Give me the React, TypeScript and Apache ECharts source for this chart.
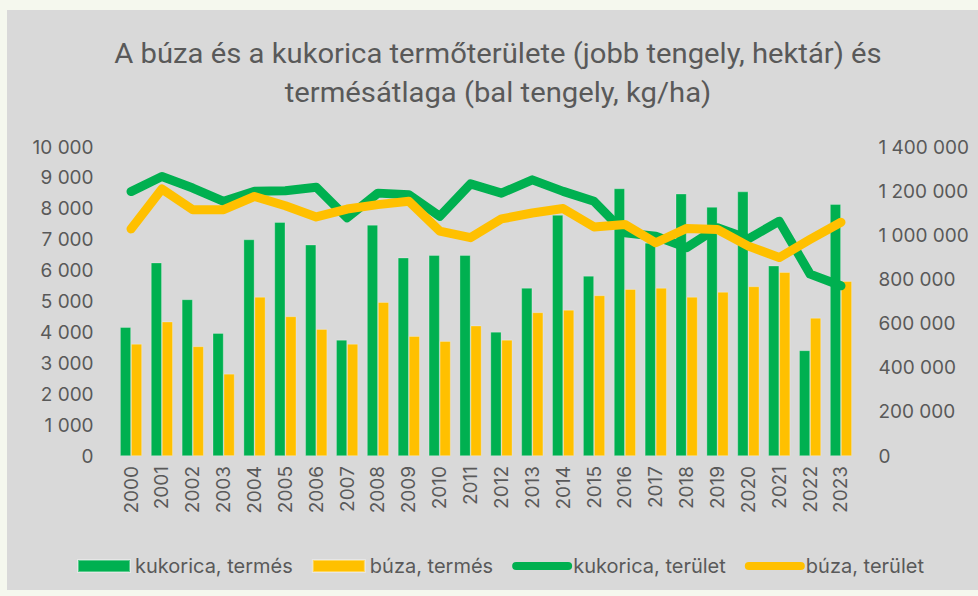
import React, { useEffect, useRef } from "react";
import * as echarts from "echarts";

const years = ["2000","2001","2002","2003","2004","2005","2006","2007","2008","2009","2010","2011","2012","2013","2014","2015","2016","2017","2018","2019","2020","2021","2022","2023"];
const kukoricaTermes = [4170,6260,5070,3980,7010,7570,6840,3760,7480,6420,6500,6500,4020,5440,7800,5830,8660,6900,8490,8060,8560,6160,3420,8150];
const buzaTermes = [3630,4350,3550,2660,5150,4520,4110,3630,4980,3880,3720,4220,3760,4650,4730,5200,5400,5440,5150,5310,5490,5950,4470,5660];
const kukoricaTerulet = [1198000,1266000,1214000,1154000,1199000,1202000,1218000,1079000,1191000,1184000,1086000,1233000,1191000,1251000,1199000,1154000,1011000,996000,944000,1034000,984000,1064000,824000,771000];
const buzaTerulet = [1029000,1210000,1116000,1116000,1176000,1134000,1083000,1119000,1139000,1154000,1019000,989000,1074000,1101000,1121000,1038000,1049000,966000,1031000,1026000,951000,899000,981000,1059000];

const titleLines = ["A búza és a kukorica termőterülete (jobb tengely, hektár) és", "termésátlaga (bal tengely, kg/ha)"];

const GREEN = "#00b050";
const YELLOW = "#ffc000";
const TEXT = "#595959";
const FONT = "Inter, 'Noto Sans', sans-serif";
const TITLE_FONT = "Roboto";
const TITLE_SIZE = 28;

const fmt = (v: number) => String(v).replace(/\B(?=(\d{3})+(?!\d))/g, " ");

function measure(text: string, font: string): number {
  const c = document.createElement("canvas").getContext("2d");
  if (!c) return text.length * 12;
  c.font = font;
  return c.measureText(text).width;
}

export default function App() {
  const ref = useRef<HTMLDivElement>(null);
  useEffect(() => {
    if (!ref.current) return;
    const chart = echarts.init(ref.current, undefined, { renderer: "svg" });
    const w1 = measure(titleLines[0], `${TITLE_SIZE}px ${TITLE_FONT}`);
    const sx = 768 / w1;
    const centerX = 498;
    chart.setOption({
      animation: false,
      backgroundColor: "transparent",
      graphic: titleLines.map((t, i) => ({
        type: "text",
        x: centerX,
        y: 53 + i * 39,
        scaleX: sx,
        style: {
          text: t,
          fontFamily: TITLE_FONT,
          fontSize: TITLE_SIZE,
          fill: TEXT,
          align: "center",
          verticalAlign: "middle",
        },
      })),
      legend: {
        bottom: 20,
        left: 77,
        padding: 0,
        itemGap: 19,
        itemWidth: 52,
        itemHeight: 12,
        textStyle: { fontFamily: FONT, fontSize: 20, color: TEXT },
        data: [
          { name: "kukorica, termés", icon: "rect" },
          { name: "búza, termés", icon: "rect" },
          { name: "kukorica, terület", itemStyle: { opacity: 0 }, lineStyle: { width: 8, cap: "round" } },
          { name: "búza, terület", itemStyle: { opacity: 0 }, lineStyle: { width: 8, cap: "round" } },
        ],
      },
      grid: { left: 115.6, right: 121.6, top: 147, bottom: 140 },
      xAxis: {
        type: "category",
        data: years,
        axisLine: { show: false },
        axisTick: { show: false },
        axisLabel: { rotate: 90, fontFamily: FONT, fontSize: 19, color: TEXT, margin: 10 },
      },
      yAxis: [
        {
          type: "value",
          min: 0,
          max: 10000,
          interval: 1000,
          splitLine: { show: false },
          axisLine: { show: false },
          axisLabel: { formatter: fmt, fontFamily: FONT, fontSize: 19, color: TEXT, margin: 22 },
        },
        {
          type: "value",
          min: 0,
          max: 1400000,
          interval: 200000,
          splitLine: { show: false },
          axisLine: { show: false },
          axisLabel: { formatter: fmt, fontFamily: FONT, fontSize: 19, color: TEXT, margin: 22 },
        },
      ],
      series: [
        {
          name: "kukorica, termés",
          type: "bar",
          data: kukoricaTermes,
          barWidth: 11,
          barGap: "0%",
          itemStyle: { color: GREEN, borderColor: "rgba(255,255,255,0.35)", borderWidth: 0.75 },
        },
        {
          name: "búza, termés",
          type: "bar",
          data: buzaTermes,
          barWidth: 11,
          barGap: "0%",
          itemStyle: { color: YELLOW, borderColor: "rgba(255,255,255,0.35)", borderWidth: 0.75 },
        },
        {
          name: "kukorica, terület",
          type: "line",
          yAxisIndex: 1,
          data: kukoricaTerulet,
          showSymbol: false,
          symbol: "none",
          itemStyle: { color: GREEN },
          lineStyle: { color: GREEN, width: 9, cap: "round", join: "round" },
        },
        {
          name: "búza, terület",
          type: "line",
          yAxisIndex: 1,
          data: buzaTerulet,
          showSymbol: false,
          symbol: "none",
          itemStyle: { color: YELLOW },
          lineStyle: { color: YELLOW, width: 9, cap: "round", join: "round" },
        },
      ],
    });
    return () => chart.dispose();
  }, []);
  return (
    <div style={{ position: "fixed", left: 0, top: 0, width: 978, height: 596, background: "#f5f8ee" }}>
      <div style={{ position: "absolute", left: 7, top: 10, width: 971, height: 580, background: "#d9d9d9" }} />
      <div ref={ref} style={{ position: "absolute", left: 0, top: 0, width: 978, height: 596 }} />
    </div>
  );
}
